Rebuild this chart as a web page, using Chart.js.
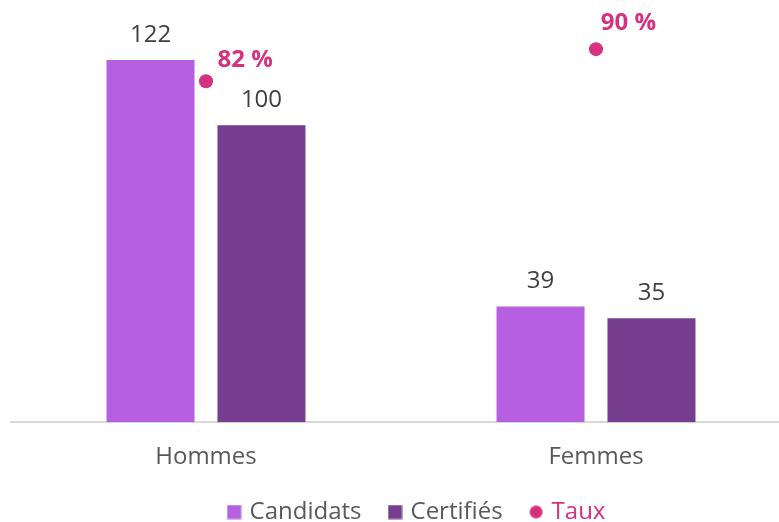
<!DOCTYPE html>
<html><head><meta charset="utf-8">
<script src="https://cdn.jsdelivr.net/npm/chart.js@4.4.1/dist/chart.umd.min.js"></script>
<style>
html,body{margin:0;padding:0;background:#fff;overflow:hidden;}
canvas{display:block;}
</style></head>
<body><canvas id="c" width="791" height="522"></canvas>
<script>
const categories = ["Hommes", "Femmes"];
const candidats = [122, 39];
const certifies = [100, 35];
const taux = [0.82, 0.90];
const tauxLabels = ["82 %", "90 %"];

const FONT = "'Open Sans', sans-serif";
const C_CAND = "#b65fe0";
const C_CERT = "#773d8f";
const C_TAUX = "#d6317f";

function legendIcon(color, circle) {
  const cv = document.createElement("canvas");
  cv.width = 15; cv.height = 15;
  const g = cv.getContext("2d");
  g.fillStyle = color;
  if (circle) { g.beginPath(); g.arc(7.5, 7.5, 6.5, 0, Math.PI * 2); g.fill(); }
  else g.fillRect(0.5, 0.5, 14, 14);
  return cv;
}

const labelPlugin = {
  id: "valueLabels",
  afterDatasetsDraw(chart) {
    const ctx = chart.ctx;
    ctx.save();
    [0, 1].forEach(di => {
      const meta = chart.getDatasetMeta(di);
      meta.data.forEach((bar, i) => {
        ctx.font = "24px " + FONT;
        ctx.fillStyle = "#404040";
        ctx.textAlign = "center";
        ctx.textBaseline = "middle";
        ctx.fillText(String(chart.data.datasets[di].data[i]), bar.x, bar.y - 25);
      });
    });
    const offs = [[11.5, -21], [4.7, -26]];
    const meta = chart.getDatasetMeta(2);
    meta.data.forEach((pt, i) => {
      ctx.font = "bold 24px " + FONT;
      ctx.fillStyle = C_TAUX;
      ctx.textAlign = "left";
      ctx.textBaseline = "middle";
      ctx.fillText(tauxLabels[i], pt.x + offs[i][0], pt.y + offs[i][1]);
    });
    ctx.restore();
  }
};
const legendShift = {
  id: "legendShift",
  afterLayout(chart) {
    const l = chart.legend;
    const dx = 17, dy = -15;
    l.left += dx; l.right += dx;
    l.top += dy; l.bottom += dy;
  }
};

new Chart(document.getElementById("c"), {
  type: "bar",
  data: {
    labels: categories,
    datasets: [
      { label: "Candidats", data: candidats, backgroundColor: C_CAND, yAxisID: "y", order: 2,
        categoryPercentage: 0.569, barPercentage: 0.793 },
      { label: "Certifiés", data: certifies, backgroundColor: C_CERT, yAxisID: "y", order: 2,
        categoryPercentage: 0.569, barPercentage: 0.793 },
      { label: "Taux", type: "line", data: taux, yAxisID: "y2", showLine: false,
        backgroundColor: C_TAUX, borderColor: C_TAUX, pointRadius: 7, pointHoverRadius: 7,
        pointBorderWidth: 0, order: 1 }
    ]
  },
  options: {
    responsive: false,
    animation: false,
    layout: { autoPadding: false, padding: { left: 11, right: 0, top: 0, bottom: -27 } },
    plugins: {
      tooltip: { enabled: false },
      legend: {
        position: "bottom",
        labels: {
          font: { family: FONT, size: 24 },
          color: "#595959",
          usePointStyle: true,
          pointStyleWidth: 7,
          boxWidth: 15, boxHeight: 15,
          padding: 30,
          generateLabels(chart) {
            return chart.data.datasets.map((ds, i) => ({
              text: ds.label,
              fillStyle: ds.backgroundColor,
              strokeStyle: ds.backgroundColor,
              lineWidth: 0,
              pointStyle: legendIcon(ds.backgroundColor, i === 2),
              fontColor: i === 2 ? C_TAUX : "#595959",
              datasetIndex: i,
              hidden: false
            }));
          }
        }
      }
    },
    scales: {
      x: {
        grid: { display: false },
        border: { display: true, color: "#d9d9d9", width: 2 },
        ticks: { font: { family: FONT, size: 24 }, color: "#595959", padding: 13 }
      },
      y: { display: false, min: 0, max: 142.2 },
      y2: { display: false, min: -0.03, max: 1.0225 }
    }
  },
  plugins: [labelPlugin, legendShift]
});
</script></body></html>
